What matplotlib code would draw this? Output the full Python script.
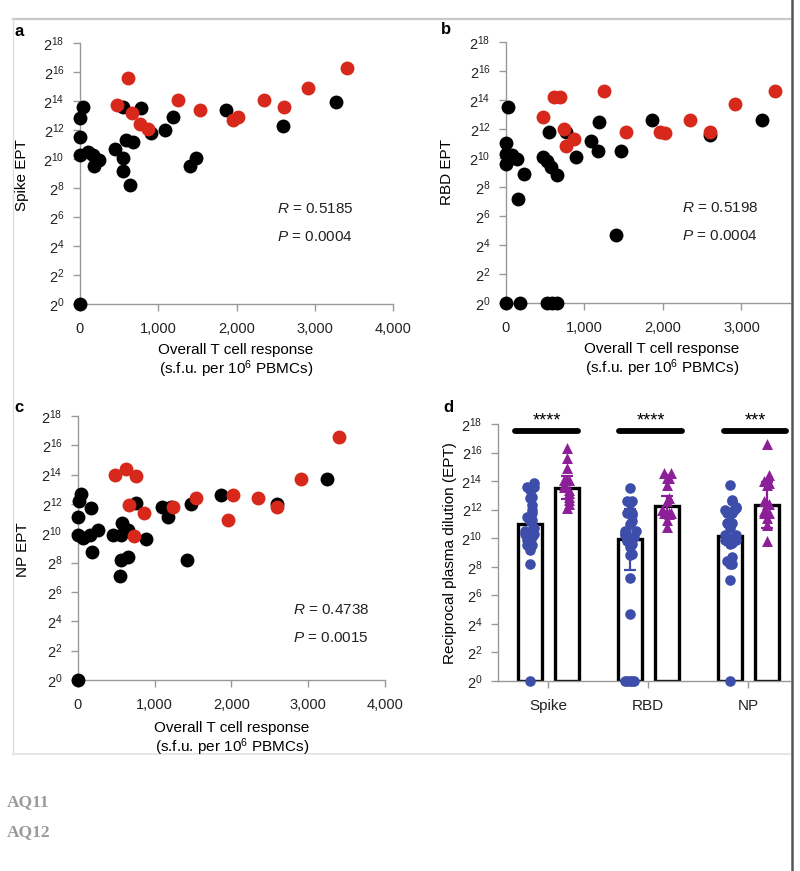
import numpy as np
import matplotlib
matplotlib.use("Agg")
import matplotlib.pyplot as plt
from matplotlib.lines import Line2D

plt.rcParams['font.family'] = ['Liberation Sans', 'DejaVu Sans']
plt.rcParams['mathtext.fontset'] = 'custom'
plt.rcParams['mathtext.rm'] = 'Liberation Sans'
plt.rcParams['mathtext.it'] = 'Liberation Sans:italic'
plt.rcParams['mathtext.bf'] = 'Liberation Sans:bold'

# ---- data (x: s.f.u. per 1e6 PBMCs, y: log2 of EPT) ----
spike_black_x = [0, 43, 0, 0, 0, 106, 170, 243, 179, 553, 447, 553, 553, 587, 672, 638,
                 774, 902, 1085, 1183, 1404, 1481, 1864, 2596, 3268]
spike_black_y = [0, 13.6, 12.8, 11.5, 10.3, 10.5, 10.3, 9.9, 9.5, 13.6, 10.7, 10.1, 9.2, 11.3,
                 11.2, 8.2, 13.5, 11.8, 12.0, 12.9, 9.5, 10.1, 13.4, 12.3, 13.9]
spike_red_x = [468, 617, 660, 766, 872, 1247, 1532, 1957, 2021, 2353, 2604, 2915, 3417]
spike_red_y = [13.7, 15.6, 13.2, 12.4, 12.1, 14.1, 13.4, 12.7, 12.9, 14.1, 13.6, 14.9, 16.3]

rbd_black_x = [0, 179, 519, 583, 647, 30, 0, 0, 0, 72, 145, 230, 157, 468, 519, 570, 647,
               553, 762, 894, 1085, 1170, 1191, 1404, 1468, 1860, 2604, 3264]
rbd_black_y = [0, 0, 0, 0, 0, 13.5, 11.0, 10.3, 9.6, 10.2, 9.9, 8.9, 7.2, 10.1, 9.8, 9.4, 8.8,
               11.8, 11.8, 10.1, 11.2, 10.5, 12.5, 4.7, 10.5, 12.6, 11.6, 12.6]
rbd_red_x = [468, 613, 689, 745, 762, 860, 1243, 1528, 1966, 2021, 2349, 2604, 2923, 3426]
rbd_red_y = [12.8, 14.2, 14.2, 12.0, 10.8, 11.3, 14.6, 11.8, 11.8, 11.7, 12.6, 11.8, 13.7, 14.6]

np_black_x = [0, 43, 9, 0, 0, 65, 173, 152, 260, 186, 455, 563, 576, 649, 563, 649, 541,
              758, 887, 1091, 1169, 1212, 1416, 1472, 1861, 2597, 3247]
np_black_y = [0, 12.7, 12.2, 11.1, 9.9, 9.7, 11.7, 9.9, 10.2, 8.7, 9.9, 9.9, 10.7, 10.2, 8.2,
              8.4, 7.1, 12.1, 9.6, 11.8, 11.1, 11.8, 8.2, 12.0, 12.6, 12.0, 13.7]
np_red_x = [476, 619, 758, 671, 866, 736, 1234, 1537, 1948, 2021, 2351, 2589, 2909, 3398]
np_red_y = [14.0, 14.4, 13.9, 11.9, 11.4, 9.8, 11.8, 12.4, 10.9, 12.6, 12.4, 11.8, 13.7, 16.6]

stats_r = ['0.5185', '0.5198', '0.4738']
stats_p = ['0.0004', '0.0004', '0.0015']

antigens = ['Spike', 'RBD', 'NP']
bar_blue = [10.97, 9.92, 10.16]
bar_purple = [13.54, 12.26, 12.33]
err_blue = [0.6, 2.15, 0.6]
err_purple = [0.82, 0.7, 1.6]
signif = ['****', '****', '***']

RED = '#d6281b'
BLUE = '#3d4eaa'
PURPLE = '#8c1f98'
SPINE = '#999999'

W, H = 800, 871
fig = plt.figure(figsize=(W / 100, H / 100), dpi=100)


def px_axes(left, top, right, bottom):
    return fig.add_axes([left / W, 1 - bottom / H, (right - left) / W, (bottom - top) / H])


def ftext(x, y, s, **kw):
    fig.text(x / W, 1 - y / H, s, **kw)


def style_axes(ax):
    for side in ['top', 'right']:
        ax.spines[side].set_visible(False)
    for side in ['left', 'bottom']:
        ax.spines[side].set_color(SPINE)
        ax.spines[side].set_linewidth(1.0)
    ax.set_ylim(0, 18)
    ax.set_yticks(range(0, 19, 2))
    ax.set_yticklabels([f'$2^{{{n}}}$' for n in range(0, 19, 2)])
    ax.tick_params(axis='both', colors=SPINE, labelcolor='#222222', labelsize=10.5,
                   length=5, width=1.0, pad=6)


def scatter_panel(ax, bx, by, rx, ry, xmax):
    style_axes(ax)
    ax.scatter(bx, by, s=100, color='black', linewidths=0, clip_on=False, zorder=3)
    ax.scatter(rx, ry, s=100, color=RED, linewidths=0, clip_on=False, zorder=4)
    ax.set_xlim(0, xmax)
    ax.set_xticks([t for t in [0, 1000, 2000, 3000, 4000] if t <= xmax])
    ax.set_xticklabels([f'{t:,}' for t in ax.get_xticks()])
    ax.tick_params(axis='x', pad=8)
    return ax


ax_a = scatter_panel(px_axes(80, 43, 393, 304), spike_black_x, spike_black_y,
                     spike_red_x, spike_red_y, 4000)
ax_b = scatter_panel(px_axes(506, 42, 790, 303), rbd_black_x, rbd_black_y,
                     rbd_red_x, rbd_red_y, 3618)
ax_c = scatter_panel(px_axes(78, 416, 385, 680), np_black_x, np_black_y,
                     np_red_x, np_red_y, 4000)

# stats text
for (x, y), r, p in zip([(277, 209), (682, 208), (293, 610)], stats_r, stats_p):
    ftext(x, y, f'$\\it{{R}}$ = {r}', fontsize=11, va='center', color='#222222')
    ftext(x, y + 28, f'$\\it{{P}}$ = {p}', fontsize=11, va='center', color='#222222')

# axis labels
ftext(22, 175, 'Spike EPT', fontsize=11, rotation=90, ha='center', va='center')
ftext(447, 172, 'RBD EPT', fontsize=11, rotation=90, ha='center', va='center')
ftext(23, 550, 'NP EPT', fontsize=11, rotation=90, ha='center', va='center')
for x, y in [(236, 350), (662, 349), (232, 728)]:
    ftext(x, y, 'Overall T cell response', fontsize=11, ha='center', va='center')
    ftext(x, y + 19, '(s.f.u. per 10$^{6}$ PBMCs)', fontsize=11, ha='center', va='center')

# panel d
ax_d = px_axes(498, 424, 790, 681)
style_axes(ax_d)
pos = np.arange(len(antigens))
off = 0.185
bw = 0.24
ax_d.bar(pos - off, bar_blue, bw, color='white', edgecolor='black', linewidth=2.4, zorder=2)
ax_d.bar(pos + off, bar_purple, bw, color='white', edgecolor='black', linewidth=2.4, zorder=2)
ax_d.errorbar(pos - off, bar_blue, yerr=err_blue, fmt='none', ecolor=BLUE, elinewidth=1.6,
              capsize=4, capthick=1.6, zorder=3)
ax_d.errorbar(pos + off, bar_purple, yerr=err_purple, fmt='none', ecolor=PURPLE,
              elinewidth=1.6, capsize=4, capthick=1.6, zorder=3)


def swarm(vals, center, step=0.022, dy=0.5, levels=3):
    # simple deterministic spread so overlapping points stay visible
    vals = np.asarray(vals, dtype=float)
    xs = np.empty(len(vals))
    placed = []
    for i in np.argsort(vals):
        k = sum(1 for py in placed if abs(py - vals[i]) < dy) % (2 * levels + 1)
        xs[i] = center + ((k + 1) // 2) * step * (1 if k % 2 else -1)
        placed.append(vals[i])
    return xs


blue_sets = [spike_black_y, rbd_black_y, np_black_y]
purple_sets = [spike_red_y, rbd_red_y, np_red_y]
for i in range(len(antigens)):
    ax_d.scatter(swarm(blue_sets[i], i - off), blue_sets[i], s=58, color=BLUE,
                 linewidths=0, clip_on=False, zorder=4)
    ax_d.scatter(swarm(purple_sets[i], i + off), purple_sets[i], s=62, marker='^',
                 color=PURPLE, linewidths=0, clip_on=False, zorder=4)

sig_span = [(-0.33, 0.30), (-0.29, 0.34), (-0.24, 0.38)]
for i, (s0, s1) in enumerate(sig_span):
    ax_d.plot([i + s0, i + s1], [17.5, 17.5], color='black', lw=4.2,
              solid_capstyle='round', clip_on=False, zorder=5)
    ax_d.text(i + (s0 + s1) / 2, 18.2, signif[i], ha='center', va='center', fontsize=13,
              clip_on=False)

ax_d.set_xlim(-0.5, 2.42)
ax_d.set_xticks(pos)
ax_d.set_xticklabels(antigens)
ax_d.tick_params(axis='x', labelsize=11, pad=8)
ftext(450, 553, 'Reciprocal plasma dilution (EPT)', fontsize=11, rotation=90,
      ha='center', va='center')

# panel letters
for x, y, s in [(14, 31, 'a'), (441, 30, 'b'), (14, 407, 'c'), (443, 407, 'd')]:
    ftext(x, y, s, fontsize=12, fontweight='bold', va='center', ha='left')

# page frame
fig.add_artist(Line2D([13 / W, 790 / W], [1 - 19 / H, 1 - 19 / H], color='#c8c8c8', lw=1.6))
fig.add_artist(Line2D([13 / W, 13 / W], [1 - 19 / H, 1 - 754 / H], color='#dcdcdc', lw=1.0))
fig.add_artist(Line2D([13 / W, 790 / W], [1 - 754 / H, 1 - 754 / H], color='#e2e2e2', lw=1.2))
fig.add_artist(Line2D([792 / W, 792 / W], [0, 1], color='#555555', lw=1.8))

ftext(7, 802, 'AQ11', fontsize=12.5, fontweight='bold', family='Liberation Serif',
      color='#9a9a9a', va='center')
ftext(7, 832, 'AQ12', fontsize=12.5, fontweight='bold', family='Liberation Serif',
      color='#9a9a9a', va='center')

plt.savefig('out.png', dpi=100)
